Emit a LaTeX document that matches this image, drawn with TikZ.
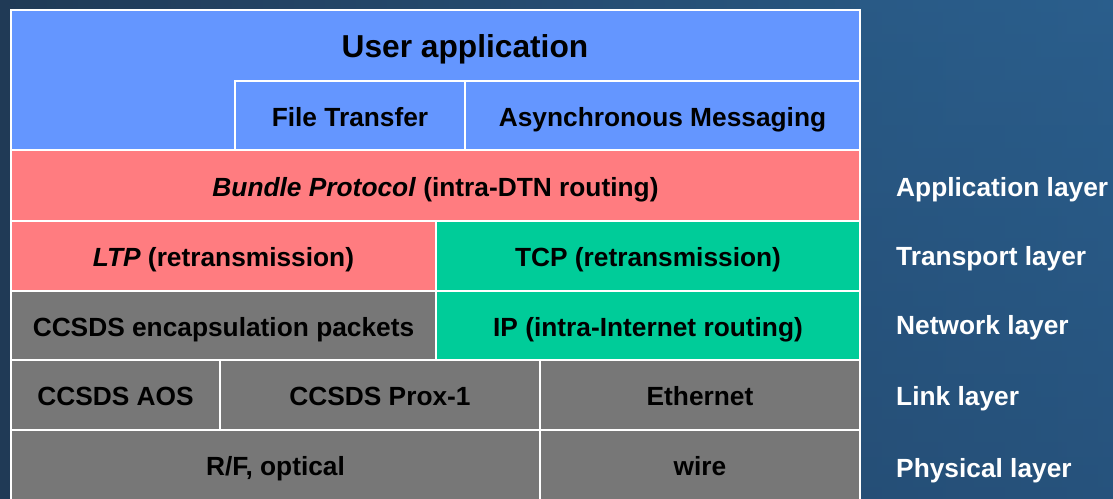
\documentclass[tikz,border=0pt]{standalone}
\usepackage{fontspec}
\setmainfont{Liberation Sans}
\definecolor{appblue}{RGB}{100,150,255}
\definecolor{dtnpink}{RGB}{255,124,128}
\definecolor{inetgreen}{RGB}{0,204,153}
\definecolor{linkgrey}{RGB}{119,119,119}
\definecolor{bgdark}{RGB}{32,58,86}
\definecolor{bglight}{RGB}{42,94,140}
\definecolor{bgmid}{RGB}{36,72,110}
\tikzset{
  cell/.style={draw=white, line width=2.4pt, inner sep=0pt, text=black,
    font=\fontsize{26.3}{30}\selectfont\bfseries,
    text height=21.9pt, text depth=0pt, align=center},
  title/.style={inner sep=0pt, text=black,
    font=\fontsize{31.7}{36}\selectfont\bfseries,
    text height=22.7pt, text depth=0pt},
  layername/.style={inner sep=0pt, text=white, anchor=west,
    font=\fontsize{26.3}{30}\selectfont\bfseries,
    text height=18.9pt, text depth=0pt}
}
% \stackcell{name}{x1}{y1}{x2}{y2}{fill}{text}
\newcommand\stackcell[7]{%
  \node[cell, fill=#6, minimum width={#4-#2}, minimum height={#5-#3}]
    (#1) at ({(#2+#4)/2},{-(#3+#5)/2}) {#7};}
\begin{document}
\begin{tikzpicture}[x=1pt, y=1pt]
  % backdrop
  \useasboundingbox (0,0) rectangle (1113,-498);
  \shade[left color=bgdark, right color=bglight] (0,0) rectangle (1113,-498);
  \shade[top color=bglight, bottom color=bgmid, opacity=0.5] (860,0) rectangle (1113,-498);

  % application block
  \stackcell{user}{11}{10}{860}{150}{appblue}{}
  \node[title] (usertxt) at (465,-46) {User application};
  \stackcell{ft}{235}{81}{465}{150}{appblue}{File Transfer}
  \stackcell{ams}{465}{81}{860}{150}{appblue}{Asynchronous Messaging}

  % bundle layer
  \stackcell{bp}{11}{150}{860}{221}{dtnpink}{\textit{Bundle Protocol} (intra-DTN routing)}

  % transport
  \stackcell{ltp}{11}{221}{436}{291}{dtnpink}{\textit{LTP} (retransmission)}
  \stackcell{tcp}{436}{221}{860}{291}{inetgreen}{TCP (retransmission)}

  % network
  \stackcell{encap}{11}{291}{436}{360}{linkgrey}{CCSDS encapsulation packets}
  \stackcell{ip}{436}{291}{860}{360}{inetgreen}{IP (intra-Internet routing)}

  % link
  \stackcell{aos}{11}{360}{220}{430}{linkgrey}{CCSDS AOS}
  \stackcell{prox}{220}{360}{540}{430}{linkgrey}{CCSDS Prox-1}
  \stackcell{eth}{540}{360}{860}{430}{linkgrey}{Ethernet}

  % physical
  \stackcell{rf}{11}{430}{540}{500}{linkgrey}{R/F, optical}
  \stackcell{wire}{540}{430}{860}{500}{linkgrey}{wire}

  % layer names
  \node[layername] (lapp)  at (896,-187) {Application layer};
  \node[layername] (ltr)   at (896,-256) {Transport layer};
  \node[layername] (lnet)  at (896,-325) {Network layer};
  \node[layername] (llink) at (896,-396) {Link layer};
  \node[layername] (lphy)  at (896,-468) {Physical layer};
\end{tikzpicture}
\end{document}
